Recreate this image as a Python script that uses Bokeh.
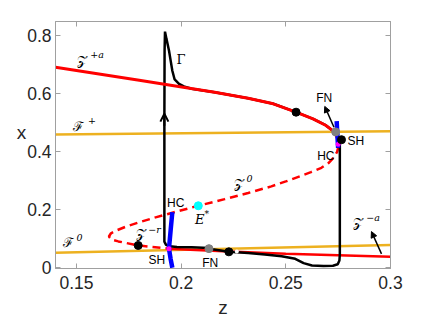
from bokeh.plotting import figure
from bokeh.models import Range1d, LinearAxis, FixedTicker, Arrow, NormalHead, OpenHead
from bokeh.core.properties import value
from bokeh.embed import file_html
from bokeh.resources import INLINE

# ---------------- data ----------------
# axis ticks
xticks = [0.15, 0.2, 0.25, 0.3]
xtick_labels = ["0.15", "0.2", "0.25", "0.3"]
yticks = [0.0, 0.2, 0.4, 0.6, 0.8]
ytick_labels = ["0", "0.2", "0.4", "0.6", "0.8"]

# critical manifold: upper attracting branch Z^{+a}
zpa_z = [0.140, 0.180, 0.216, 0.232, 0.244, 0.2549, 0.2630, 0.2690, 0.2730, 0.2748, 0.2752]
zpa_x = [0.692, 0.647, 0.6055, 0.585, 0.566, 0.537, 0.514, 0.492, 0.470, 0.445, 0.420]

# middle (Z^0) and lower repelling (Z^{-r}) branches, dashed
zmid_z = [0.2752, 0.2745, 0.2728, 0.2705, 0.2670, 0.2620, 0.2560, 0.2500, 0.2431, 0.2320, 0.2208, 0.2082,
          0.1958, 0.1878, 0.1800, 0.1740, 0.1695, 0.1665, 0.1655, 0.1668, 0.1700, 0.1727, 0.1795, 0.1860, 0.1942]
zmid_x = [0.420, 0.400, 0.380, 0.362, 0.345, 0.330, 0.314, 0.298, 0.281, 0.258, 0.237, 0.214,
          0.190, 0.174, 0.157, 0.143, 0.130, 0.119, 0.108, 0.097, 0.091, 0.087, 0.077, 0.072, 0.066]

# lower attracting branch Z^{-a}
zma_z = [0.1942, 0.2070, 0.2228, 0.2500, 0.2750, 0.3000]
zma_x = [0.066, 0.061, 0.056, 0.048, 0.043, 0.038]

# fold lines F^+ and F^0
fp_z = [0.14, 0.30]
fp_x = [0.460, 0.471]
f0_z = [0.14, 0.30]
f0_x = [0.052, 0.079]

# relaxation orbit Gamma
traj_z = [0.2133, 0.2050, 0.1980, 0.1945, 0.1928, 0.1920, 0.1920, 0.1921, 0.1923,
          0.1930, 0.1942, 0.1950, 0.1958, 0.1969, 0.1990, 0.2013, 0.2050,
          0.2160, 0.2320, 0.2440, 0.2549, 0.2630, 0.2690, 0.2730, 0.2750,
          0.2758, 0.2758, 0.2756, 0.2748, 0.2725, 0.2680, 0.2625, 0.2585, 0.2545,
          0.2480, 0.2400, 0.2320, 0.2228, 0.2133]
traj_x = [0.068, 0.071, 0.072, 0.074, 0.079, 0.090, 0.500, 0.750, 0.815,
          0.790, 0.750, 0.715, 0.680, 0.650, 0.635, 0.626, 0.618,
          0.6055, 0.585, 0.566, 0.537, 0.514, 0.492, 0.470, 0.447,
          0.440, 0.045, 0.025, 0.012, 0.007, 0.006, 0.008, 0.016, 0.031,
          0.040, 0.046, 0.051, 0.055, 0.066]

# homoclinic (HC) branches, blue
hc_lo_z = [0.1958, 0.1950, 0.1942, 0.1950, 0.1958]
hc_lo_x = [0.192, 0.130, 0.066, 0.030, 0.000]
hc_up_z = [0.2743, 0.2746, 0.2750]
hc_up_x = [0.506, 0.460, 0.414]

# special points
black_z = [0.2549, 0.2766, 0.1795, 0.2228]
black_x = [0.537, 0.442, 0.077, 0.055]
grey_z = [0.2738, 0.2133]
grey_x = [0.469, 0.066]
eq_z = [0.2082]
eq_x = [0.214]
mag_z = [0.1942, 0.2750]
mag_x = [0.066, 0.426]
white_z = [0.2266]
white_x = [0.056]

# text labels
bif_text = ["FN", "SH", "HC", "HC", "SH", "FN"]
bif_z = [0.2683, 0.2834, 0.2691, 0.1974, 0.1884, 0.2139]
bif_x = [0.585, 0.439, 0.387, 0.223, 0.028, 0.018]

cal_text = ["\U0001D4B5", "\u2131", "\U0001D4B5", "\U0001D4B5", "\U0001D4B5", "\u2131"]
cal_z = [0.1528, 0.1508, 0.2278, 0.1806, 0.2845, 0.1460]
cal_x = [0.716, 0.486, 0.291, 0.120, 0.157, 0.088]
sup_text = ["+a", "+", "0", "\u2212r", "\u2212a", "0"]
sup_z = [0.1599, 0.1574, 0.2327, 0.1873, 0.2917, 0.1515]
sup_x = [0.737, 0.510, 0.309, 0.132, 0.172, 0.103]

# arrows (start -> end)
arr_z0 = [0.2730, 0.2957]
arr_x0 = [0.485, 0.048]
arr_z1 = [0.2686, 0.2909]
arr_x1 = [0.557, 0.125]
dir_z = [0.1920, 0.1920]
dir_x = [0.490, 0.532]

# ---------------- figure ----------------
GRAY = "#a0a0a0"
TXT = "#262626"
p = figure(width=428, height=321, x_range=Range1d(0.14, 0.30), y_range=Range1d(-0.0025, 0.85),
           output_backend="svg", toolbar_location=None,
           min_border_left=55, min_border_right=38, min_border_top=21, min_border_bottom=53)
p.grid.visible = False
p.outline_line_color = GRAY
p.background_fill_color = "white"
p.border_fill_color = "white"

def style_axis(ax, ticks, labels, show):
    ax.ticker = FixedTicker(ticks=ticks)
    ax.major_label_overrides = {t: (l if show else "") for t, l in zip(ticks, labels)}
    ax.axis_line_color = GRAY
    ax.major_tick_line_color = GRAY
    ax.major_tick_in = 5
    ax.major_tick_out = 0
    ax.minor_tick_line_color = None
    ax.major_label_text_font = "Liberation Sans"
    ax.major_label_text_font_size = "17.5px"
    ax.major_label_text_color = TXT

style_axis(p.xaxis[0], xticks, xtick_labels, True)
style_axis(p.yaxis[0], yticks, ytick_labels, True)
p.xaxis[0].major_label_standoff = 7
p.yaxis[0].major_label_standoff = 4

p.xaxis[0].axis_label = "z"
p.xaxis[0].axis_label_standoff = 5
p.yaxis[0].axis_label = "x\n"
p.yaxis[0].axis_label_orientation = "horizontal"
p.yaxis[0].axis_label_standoff = -2
for ax in (p.xaxis[0], p.yaxis[0]):
    ax.axis_label_text_font = "Liberation Sans"
    ax.axis_label_text_font_size = "19px"
    ax.axis_label_text_font_style = "normal"
    ax.axis_label_text_color = TXT

top = LinearAxis()
style_axis(top, xticks, xtick_labels, False)
right = LinearAxis()
style_axis(right, yticks, ytick_labels, False)
p.add_layout(top, "above")
p.add_layout(right, "right")

# fold lines
p.line(fp_z, fp_x, line_color="#EDB120", line_width=2.5)
p.line(f0_z, f0_x, line_color="#EDB120", line_width=2.5)
# lower branches
p.line(zmid_z, zmid_x, line_color="red", line_width=2.5, line_dash="8 5")
p.line(zma_z, zma_x, line_color="red", line_width=2.5)
# orbit
p.line(traj_z, traj_x, line_color="black", line_width=2.5)
# upper attracting branch on top
p.line(zpa_z, zpa_x, line_color="red", line_width=3)
# HC branches
p.line(hc_lo_z, hc_lo_x, line_color="blue", line_width=4.5)
p.line(hc_up_z, hc_up_x, line_color="blue", line_width=4.5)

p.scatter(mag_z, mag_x, size=5, fill_color="magenta", line_color=None)
p.scatter(white_z, white_x, size=4, fill_color="white", line_color=None)
p.scatter(black_z, black_x, size=8, fill_color="black", line_color="black")
p.scatter(grey_z, grey_x, size=8, fill_color="gray", line_color="gray")
p.scatter(eq_z, eq_x, size=8, fill_color="cyan", line_color="cyan")

# arrows
for zs, xs, ze, xe in zip(arr_z0, arr_x0, arr_z1, arr_x1):
    p.add_layout(Arrow(x_start=zs, y_start=xs, x_end=ze, y_end=xe, line_width=1.5, line_color="black",
                       end=NormalHead(size=6, fill_color="black", line_color="black")))
p.add_layout(Arrow(x_start=dir_z[0], y_start=dir_x[0], x_end=dir_z[1], y_end=dir_x[1], line_width=2,
                   line_color="black", end=OpenHead(size=8, line_width=2, line_color="black")))

# texts
p.text(bif_z, bif_x, text=bif_text, text_font=value("Liberation Sans"), text_font_size="12px",
       text_color="black", text_align="center", text_baseline="middle")
p.text(cal_z, cal_x, text=cal_text, text_font=value("DejaVu Serif"), text_font_size="13px",
       text_color="black", text_align="center", text_baseline="middle")
p.text(sup_z, sup_x, text=sup_text, text_font=value("DejaVu Serif"), text_font_size="9.5px",
       text_font_style="italic", text_color="black", text_align="center", text_baseline="middle")
p.text([0.2000], [0.718], text=["\u0393"], text_font=value("DejaVu Serif"), text_font_size="13px",
       text_color="black", text_align="center", text_baseline="middle")
p.text([0.2089], [0.166], text=["E"], text_font=value("DejaVu Serif"), text_font_size="13px",
       text_font_style="italic", text_color="black", text_align="center", text_baseline="middle")
p.text([0.2122], [0.186], text=["*"], text_font=value("DejaVu Serif"), text_font_size="9px",
       text_color="black", text_align="center", text_baseline="middle")

open("out.html", "w").write(file_html(p, INLINE))
